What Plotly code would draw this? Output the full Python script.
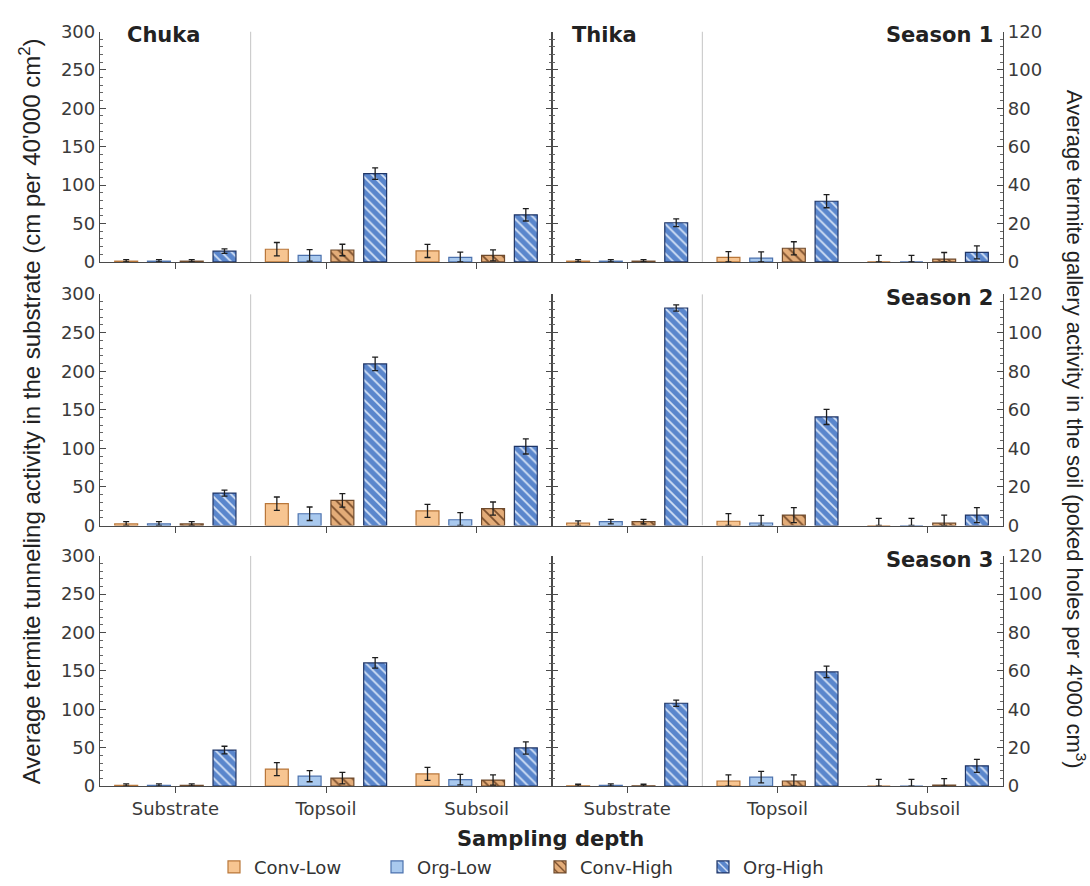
import plotly.graph_objects as go

# ---- data -------------------------------------------------------------
treatments = ["Conv-Low", "Org-Low", "Conv-High", "Org-High"]
sites = ["Chuka", "Thika"]
seasons = ["Season 1", "Season 2", "Season 3"]
depths = ["Substrate", "Topsoil", "Subsoil"]

# Substrate: tunneling (cm per 40'000 cm2), [season][site][treatment]
substrate_mean = [
    [[1, 1, 1, 14], [1, 1, 1, 51]],
    [[2, 2, 2, 42], [3, 5, 5, 282]],
    [[1, 1, 1, 47], [0.5, 1, 0.5, 108]],
]
substrate_err = [
    [[2, 2, 2, 3], [2, 2, 2, 5]],
    [[3, 3, 3, 4], [3, 3, 3, 4]],
    [[2, 2, 2, 5], [2, 2, 2, 4]],
]

# Soil: gallery activity (poked holes per 4'000 cm3), [season][site][depth][treatment]
topsoil_mean = [
    [[6.6, 3.4, 6.2, 46], [2.4, 2.0, 7.1, 31.6]],
    [[11.3, 6.1, 13.0, 83.8], [2.2, 1.3, 5.4, 56.3]],
    [[8.9, 5.2, 4.2, 64.2], [2.7, 4.7, 2.7, 59.5]],
]
topsoil_err = [
    [[3.5, 3.0, 3.0, 3.0], [3.0, 3.2, 3.4, 3.4]],
    [[3.5, 3.5, 3.5, 3.5], [4.0, 4.0, 3.9, 3.9]],
    [[3.4, 2.9, 3.0, 2.7], [3.2, 3.0, 3.2, 3.0]],
]
subsoil_mean = [
    [[5.7, 2.4, 3.4, 24.5], [0, 0, 1.5, 5.0]],
    [[7.6, 3.0, 8.8, 41.0], [0, 0, 1.2, 5.4]],
    [[6.4, 3.4, 3.2, 19.9], [0, 0, 0.5, 10.6]],
]
subsoil_err = [
    [[3.4, 2.7, 2.9, 3.2], [3.4, 3.4, 3.4, 3.4]],
    [[3.4, 3.7, 3.4, 3.9], [3.7, 3.7, 4.2, 3.9]],
    [[3.4, 2.7, 2.7, 3.2], [3.5, 3.5, 3.4, 3.4]],
]

# ---- styling ----------------------------------------------------------
W, H = 1090, 886
fill = ["#F7C591", "#A9C9EE", "#E3AC78", "#5A86CC"]
edge = ["#B9773A", "#4C72AE", "#6E4A2C", "#1F3566"]
hatch = ["", "", "\\", "\\"]
hatch_fg = ["", "", "#7A4E2C", "#D6E3F6"]
AX = "#4A4A4A"
TICKFONT = dict(family="DejaVu Sans", size=18, color="#3A3A3A")


def fx(p):
    return p / W


def fy(p):
    return 1 - p / H


col_px = [(100, 552), (552, 1003)]
row_px = [(21, 257), (290, 527), (558, 794)]

fig = go.Figure()
layout = {}
shapes = []
annotations = []


def err_minus(means, errs):
    return [None if m is None else min(m, e) for m, e in zip(means, errs)]


for r in range(3):
    for c in range(2):
        k = r * 2 + c
        xi = k + 1
        ys = 2 * k + 1
        yl = 2 * k + 2
        xname, ysname, ylname = f"x{xi}", f"y{ys}", f"y{yl}"

        for t in range(4):
            pattern = dict(shape=hatch[t], size=7, solidity=0.25,
                           bgcolor=fill[t], fgcolor=hatch_fg[t] or fill[t],
                           fillmode="replace") if hatch[t] else None
            marker = dict(color=fill[t], line=dict(color=edge[t], width=1.2))
            if pattern:
                marker["pattern"] = pattern

            # substrate group on the left-hand scale
            ysub = [substrate_mean[r][c][t], None, None]
            esub = [substrate_err[r][c][t], None, None]
            fig.add_trace(go.Bar(
                x=[0, 1, 2], y=ysub, name=treatments[t],
                legendgroup=treatments[t], showlegend=(k == 0),
                marker=marker, xaxis=xname, yaxis=ysname,
                error_y=dict(type="data", array=esub,
                             arrayminus=err_minus(ysub, esub),
                             color="#1E1E1E", thickness=1.3, width=3),
            ))
            # soil groups on the right-hand scale
            ysoil = [None, topsoil_mean[r][c][t], subsoil_mean[r][c][t]]
            esoil = [None, topsoil_err[r][c][t], subsoil_err[r][c][t]]
            fig.add_trace(go.Bar(
                x=[0, 1, 2], y=ysoil, name=treatments[t],
                legendgroup=treatments[t], showlegend=False,
                marker=marker, xaxis=xname, yaxis=ylname,
                error_y=dict(type="data", array=esoil,
                             arrayminus=err_minus(ysoil, esoil),
                             color="#1E1E1E", thickness=1.3, width=3),
            ))

        x0, x1 = col_px[c]
        y0, y1 = row_px[r]
        key = "" if xi == 1 else str(xi)
        layout[f"xaxis{key}"] = dict(
            domain=[fx(x0), fx(x1)], anchor=ysname, range=[-0.5, 2.5],
            tickvals=[0, 1, 2], ticktext=depths, showticklabels=(r == 2),
            ticks="outside", ticklen=6, tickcolor=AX, showline=True,
            linecolor=AX, linewidth=1.3, showgrid=False, zeroline=False,
            tickfont=TICKFONT, fixedrange=True,
        )
        ykey = "" if ys == 1 else str(ys)
        layout[f"yaxis{ykey}"] = dict(
            domain=[fy(y1), fy(y0)], anchor=xname, range=[0, 300], dtick=50,
            ticks="inside", ticklen=6, tickcolor=AX, tickwidth=1,
            showline=True, linecolor=AX, linewidth=1.3,
            mirror=("ticks" if c == 0 else False),
            showticklabels=(c == 0), showgrid=False, zeroline=False,
            minor=dict(dtick=10, ticks="inside", ticklen=3, tickcolor="#666",
                       tickwidth=1),
            tickfont=TICKFONT, fixedrange=True,
        )
        layout[f"yaxis{yl}"] = dict(
            overlaying=ysname, anchor=xname, side="right", range=[0, 120],
            dtick=20, visible=(c == 1), ticks="inside", ticklen=6,
            tickcolor=AX, tickwidth=1, showline=True, linecolor=AX,
            linewidth=1.3, showgrid=False, zeroline=False,
            minor=dict(dtick=4, ticks="inside", ticklen=3, tickcolor="#666",
                       tickwidth=1),
            tickfont=TICKFONT, fixedrange=True,
        )

        # light separator between the substrate and the soil groups
        shapes.append(dict(type="line", xref=xname, yref=ysname,
                           x0=0.5, x1=0.5, y0=0, y1=300, layer="below",
                           line=dict(color="#C4C4C4", width=1)))

        if r == 0:
            annotations.append(dict(
                text=f"<b>{sites[c]}</b>", xref="paper", yref="paper",
                x=fx(x0 + 25 if c == 0 else x0 + 18), y=fy(y0 + 4),
                xanchor="left", yanchor="middle", showarrow=False,
                font=dict(family="DejaVu Sans", size=21, color="#222")))
        if c == 1:
            annotations.append(dict(
                text=f"<b>{seasons[r]}</b>", xref="paper", yref="paper",
                x=fx(x1 - 8), y=fy(y0 + 4), xanchor="right",
                yanchor="middle", showarrow=False,
                font=dict(family="DejaVu Sans", size=21, color="#222")))

annotations += [
    dict(text="Average termite tunneling activity in the substrate "
              "(cm per 40'000 cm<sup>2</sup>)",
         xref="paper", yref="paper", x=fx(30), y=fy(410), textangle=-90,
         showarrow=False, xanchor="center", yanchor="middle",
         font=dict(family="Liberation Sans", size=24, color="#222")),
    dict(text="Average termite gallery activity in the soil "
              "(poked holes per 4'000 cm<sup>3</sup>)",
         xref="paper", yref="paper", x=fx(1076), y=fy(428), textangle=90,
         showarrow=False, xanchor="center", yanchor="middle",
         font=dict(family="Liberation Sans", size=22, color="#222")),
    dict(text="<b>Sampling depth</b>", xref="paper", yref="paper",
         x=fx(550), y=fy(848), showarrow=False, xanchor="center",
         yanchor="middle",
         font=dict(family="DejaVu Sans", size=21, color="#222")),
]

fig.update_layout(
    width=W, height=H, margin=dict(l=0, r=0, t=0, b=0),
    paper_bgcolor="white", plot_bgcolor="white",
    barmode="group", bargap=0.13, bargroupgap=0.3,
    shapes=shapes, annotations=annotations,
    legend=dict(orientation="h", x=fx(540), xanchor="center",
                y=fy(877), yanchor="middle",
                font=dict(family="DejaVu Sans", size=18, color="#333"),
                entrywidth=118, entrywidthmode="pixels",
                bgcolor="rgba(0,0,0,0)"),
    **layout,
)

fig.write_html("out.html")
